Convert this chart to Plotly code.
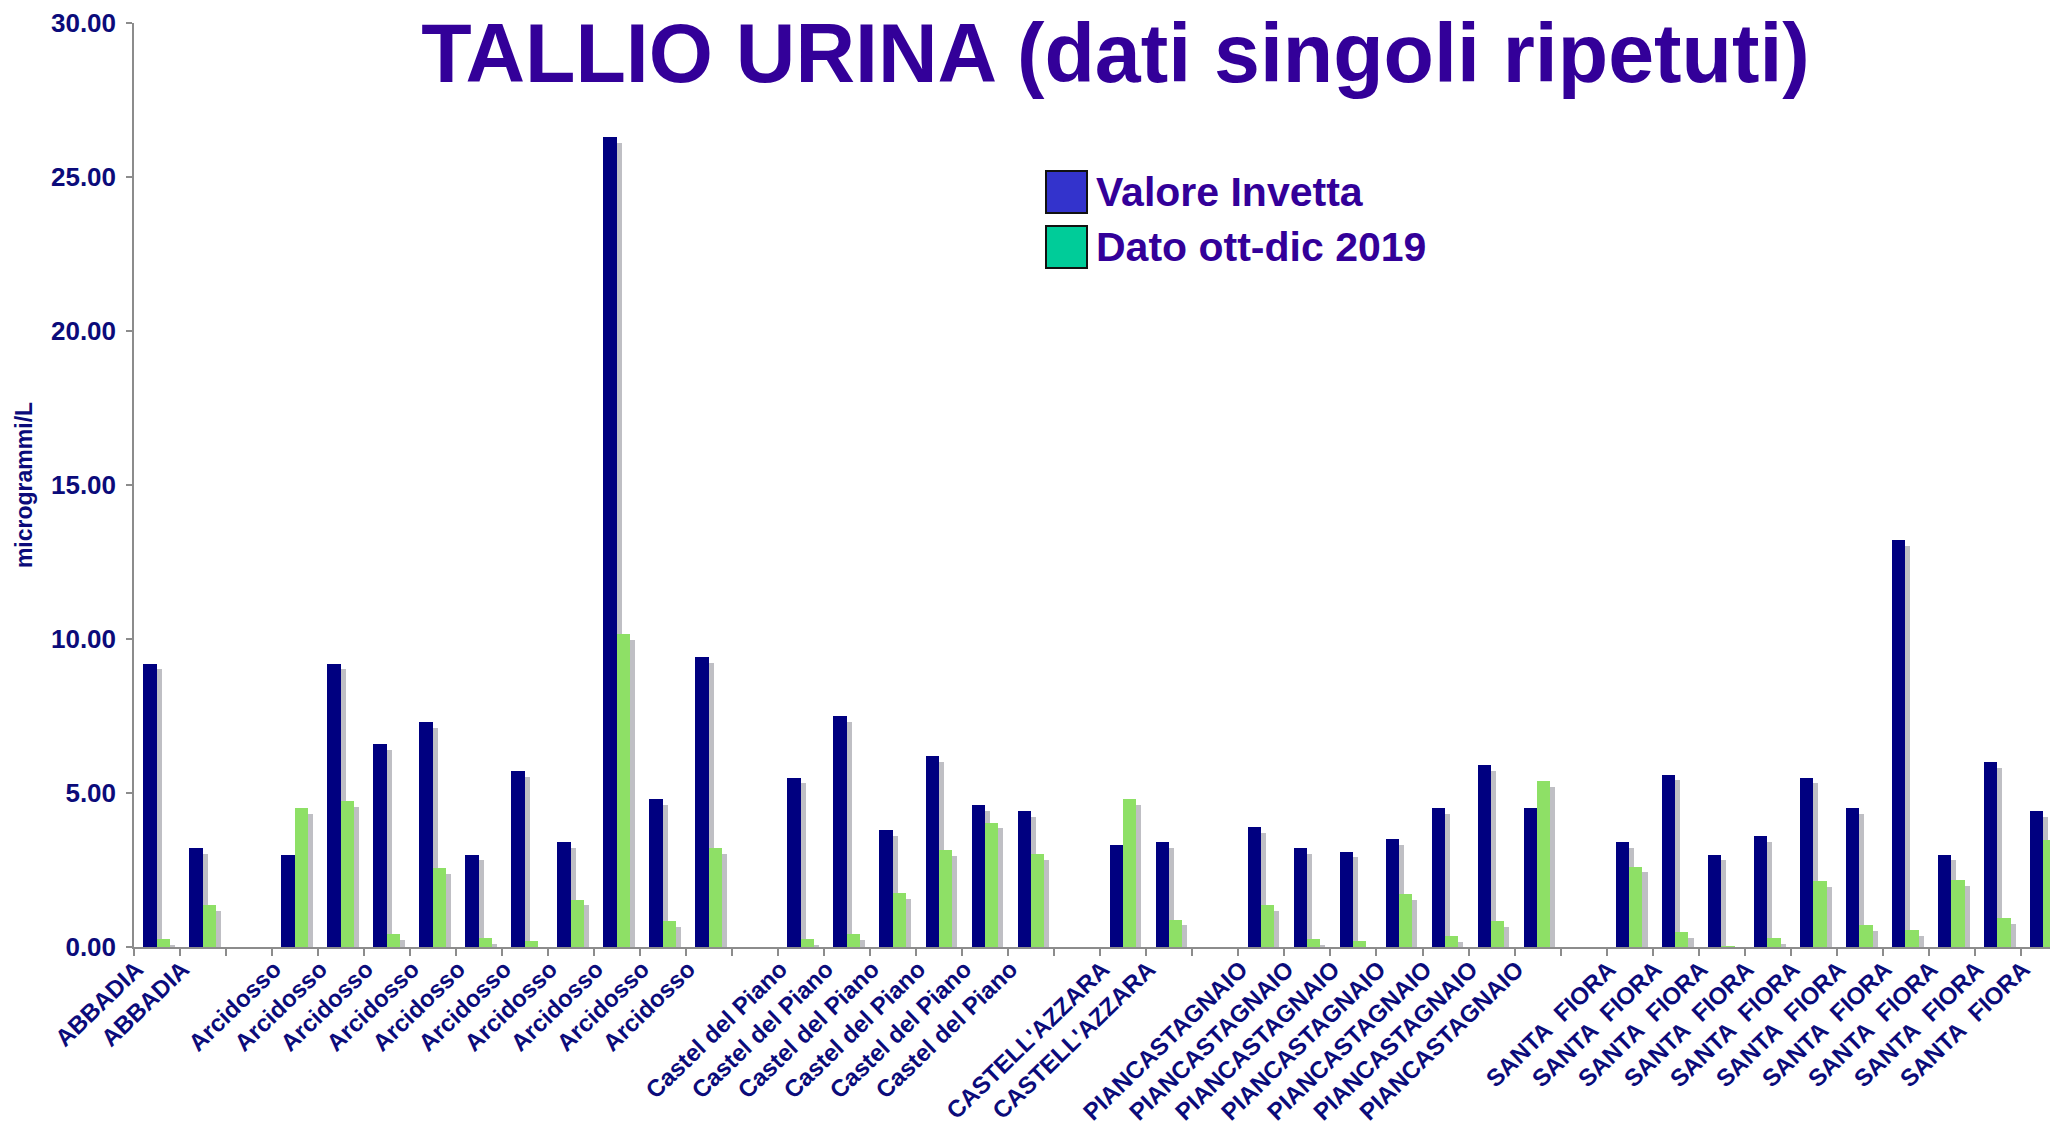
import plotly.graph_objects as go

# ---------------- data ----------------
labels = [
    "ABBADIA", "ABBADIA", "",
    "Arcidosso", "Arcidosso", "Arcidosso", "Arcidosso", "Arcidosso",
    "Arcidosso", "Arcidosso", "Arcidosso", "Arcidosso", "Arcidosso", "",
    "Castel del Piano", "Castel del Piano", "Castel del Piano",
    "Castel del Piano", "Castel del Piano", "Castel del Piano", "",
    "CASTELL'AZZARA", "CASTELL'AZZARA", "",
    "PIANCASTAGNAIO", "PIANCASTAGNAIO", "PIANCASTAGNAIO", "PIANCASTAGNAIO",
    "PIANCASTAGNAIO", "PIANCASTAGNAIO", "PIANCASTAGNAIO", "",
    "SANTA\u00a0\u00a0FIORA", "SANTA\u00a0\u00a0FIORA", "SANTA\u00a0\u00a0FIORA",
    "SANTA\u00a0\u00a0FIORA", "SANTA\u00a0\u00a0FIORA", "SANTA\u00a0\u00a0FIORA",
    "SANTA\u00a0\u00a0FIORA", "SANTA\u00a0\u00a0FIORA", "SANTA\u00a0\u00a0FIORA",
    "SANTA\u00a0\u00a0FIORA",
]

valore_invetta = [
    9.2, 3.2, None,
    3.0, 9.2, 6.6, 7.3, 3.0, 5.7, 3.4, 26.3, 4.8, 9.4, None,
    5.5, 7.5, 3.8, 6.2, 4.6, 4.4, None,
    3.3, 3.4, None,
    3.9, 3.2, 3.1, 3.5, 4.5, 5.9, 4.5, None,
    3.4, 5.6, 3.0, 3.6, 5.5, 4.5, 13.2, 3.0, 6.0, 4.4,
]

dato_ott_dic_2019 = [
    0.27, 1.35, None,
    4.50, 4.73, 0.41, 2.56, 0.30, 0.18, 1.54, 10.17, 0.84, 3.21, None,
    0.27, 0.41, 1.75, 3.16, 4.04, 3.02, None,
    4.81, 0.89, None,
    1.37, 0.27, 0.19, 1.71, 0.35, 0.84, 5.38, None,
    2.61, 0.49, 0.03, 0.30, 2.13, 0.70, 0.56, 2.16, 0.93, 3.48,
]

y_ticks = [0, 5, 10, 15, 20, 25, 30]

# ---------------- style ----------------
FONT = "Liberation Sans, Arial, sans-serif"
NAVY = "#0B0B7A"
TITLE_COL = "#330099"
BLUE_BAR = "#000080"
GREEN_BAR = "#8EE066"
SHADOW = "#BFBFC4"
AXIS_COL = "#8C8C8C"

W, H = 2058, 1128
OFF = 8  # page body margin offset
ML, MR, MT, MB = 134 - OFF, OFF, 23 - OFF, H - (947 - OFF)

x = list(range(len(labels)))
BW = 0.29
SH_DX = 0.11
SH_DY = 0.19
LABEL_SHIFT = -0.45


def shadow(vals):
    return [None if v is None else max(v - SH_DY, 0) for v in vals]


fig = go.Figure()
# shadows
fig.add_trace(go.Bar(x=x, y=shadow(valore_invetta), offset=-0.30 + SH_DX, width=BW,
                     marker=dict(color=SHADOW, line=dict(width=0)), showlegend=False,
                     hoverinfo="skip"))
fig.add_trace(go.Bar(x=x, y=shadow(dato_ott_dic_2019), offset=-0.01 + SH_DX, width=BW,
                     marker=dict(color=SHADOW, line=dict(width=0)), showlegend=False,
                     hoverinfo="skip"))
# main bars
fig.add_trace(go.Bar(x=x, y=valore_invetta, offset=-0.30, width=BW, name="Valore Invetta",
                     marker=dict(color=BLUE_BAR, line=dict(width=0)), showlegend=False))
fig.add_trace(go.Bar(x=x, y=dato_ott_dic_2019, offset=-0.01, width=BW, name="Dato ott-dic 2019",
                     marker=dict(color=GREEN_BAR, line=dict(width=0)), showlegend=False))

plot_w = W - ML - MR
plot_h = H - MT - MB


def px_x(p):  # window pixel -> paper
    return (p - OFF - ML) / plot_w


def px_y(p):
    return (H - MB - (p - OFF)) / plot_h


# manual legend
legend_items = [("Valore Invetta", "#3333CC", 171, 213), ("Dato ott-dic 2019", "#00CC99", 226, 268)]
shapes = []
annotations = []
for name, col, top, bot in legend_items:
    shapes.append(dict(type="rect", xref="paper", yref="paper",
                       x0=px_x(1046), x1=px_x(1087), y0=px_y(bot), y1=px_y(top),
                       fillcolor=col, line=dict(color="#111111", width=2)))
    annotations.append(dict(xref="paper", yref="paper", x=px_x(1094), y=px_y((top + bot) / 2),
                            xanchor="left", yanchor="middle", showarrow=False,
                            text="<b>%s</b>" % name,
                            font=dict(family=FONT, size=41, color=TITLE_COL)))

fig.update_layout(
    width=W, height=H,
    margin=dict(l=ML, r=MR, t=MT, b=MB, pad=0, autoexpand=False),
    paper_bgcolor="white", plot_bgcolor="white",
    barmode="overlay",
    bargap=0,
    title=dict(text="<b>TALLIO URINA (dati singoli ripetuti)</b>",
               xref="container", yref="container", x=1107.5 / W, xanchor="center",
               y=1 - 45 / H, yanchor="middle",
               font=dict(family=FONT, size=82.5, color=TITLE_COL)),
    shapes=shapes,
    annotations=annotations,
    showlegend=False,
    xaxis=dict(
        range=[-0.5, 41.31], automargin=False,
        tickmode="array", tickvals=[i + LABEL_SHIFT for i in x],
        ticktext=["<b>%s</b>" % t for t in labels],
        tickangle=-44, ticks="", showgrid=False, zeroline=False,
        ticklabelstandoff=-3,
        showline=True, linecolor=AXIS_COL, linewidth=1.5,
        tickfont=dict(family=FONT, size=24, color=NAVY),
        minor=dict(ticks="outside", ticklen=7, tickcolor=AXIS_COL, tickwidth=1.5,
                   tickmode="linear", tick0=-0.5, dtick=1, showgrid=False),
    ),
    yaxis=dict(
        range=[0, 30], automargin=False, tickmode="array", tickvals=y_ticks,
        ticktext=["<b>%.2f</b>" % v for v in y_ticks],
        ticks="outside", ticklen=6, tickcolor=AXIS_COL, tickwidth=1.5,
        ticklabelstandoff=5,
        showgrid=False, zeroline=False,
        showline=True, linecolor=AXIS_COL, linewidth=1.5,
        tickfont=dict(family=FONT, size=26, color=NAVY),
        title=dict(text="<b>microgrammi/L</b>", standoff=12,
                   font=dict(family=FONT, size=23, color=NAVY)),
    ),
)

fig.write_html("out.html")
